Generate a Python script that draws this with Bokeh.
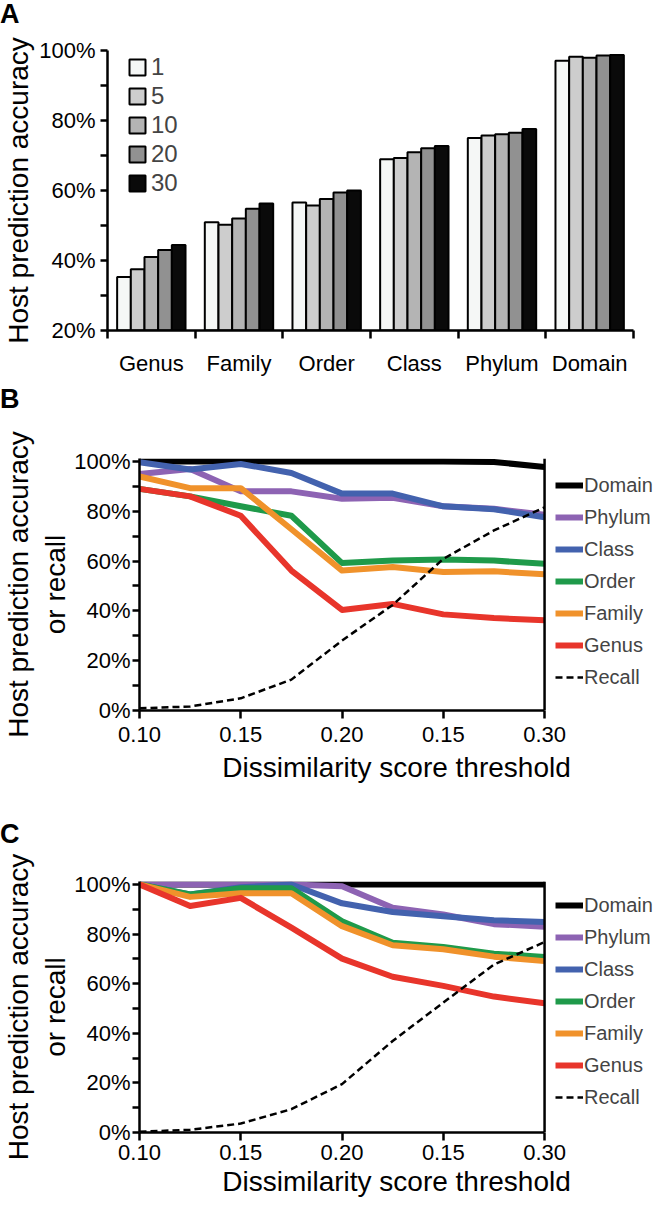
from bokeh.plotting import figure
from bokeh.layouts import column
from bokeh.models import FixedTicker, PrintfTickFormatter, Range1d, Legend, LegendItem, Div
from bokeh.embed import file_html
from bokeh.resources import INLINE

FONT = "Liberation Sans"

# ---------------- Panel A data ----------------
categories = ["Genus", "Family", "Order", "Class", "Phylum", "Domain"]
top_n = ["1", "5", "10", "20", "30"]
acc_top1 = [35.3, 50.9, 56.6, 68.9, 75.0, 97.1]
acc_top5 = [37.5, 50.2, 55.7, 69.3, 75.7, 98.2]
acc_top10 = [41.0, 52.0, 57.6, 70.9, 76.1, 97.9]
acc_top20 = [43.0, 54.8, 59.4, 72.1, 76.5, 98.6]
acc_top30 = [44.4, 56.3, 60.0, 72.7, 77.6, 98.7]
bar_colors = ["#f5f7f6", "#cdcdcd", "#b4b4b4", "#919191", "#0a0a0a"]

# ---------------- Panel B / C data ----------------
thresholds = [0.100, 0.125, 0.150, 0.175, 0.200, 0.225, 0.250, 0.275, 0.300]
x_tick_values = [0.10, 0.15, 0.20, 0.25, 0.30]
x_tick_labels = ["0.10", "0.15", "0.20", "0.15", "0.30"]
series_names = ["Domain", "Phylum", "Class", "Order", "Family", "Genus", "Recall"]
series_colors = ["#000000", "#8d63b3", "#4362ae", "#1f9a4a", "#f0922b", "#e8352b", "#000000"]

b_domain = [100, 100, 100, 100, 100, 100, 100, 99.8, 97.8]
b_phylum = [95.0, 97.0, 88.0, 88.0, 85.0, 85.4, 82.0, 81.0, 78.6]
b_class = [99.7, 96.8, 99.0, 95.4, 87.1, 87.1, 82.0, 80.8, 77.6]
b_order = [89.0, 86.0, 82.0, 78.2, 59.2, 60.2, 60.6, 60.2, 58.9]
b_family = [94.0, 89.3, 89.3, 72.8, 56.2, 57.6, 55.6, 55.9, 54.7]
b_genus = [89.0, 86.0, 78.2, 56.2, 40.4, 42.8, 38.6, 37.1, 36.2]
b_recall = [0.9, 1.6, 4.9, 12.4, 28.1, 42.4, 60.9, 72.3, 81.6]

c_domain = [100, 100, 100, 100, 100, 100, 100, 100, 100]
c_phylum = [100, 100, 100, 100, 99.3, 90.6, 87.9, 84.0, 83.0]
c_class = [100, 96.0, 98.9, 100, 92.4, 88.9, 87.2, 85.6, 84.9]
c_order = [100, 96.0, 98.5, 98.5, 85.2, 76.5, 74.8, 72.1, 70.8]
c_family = [100, 95.0, 96.5, 96.5, 83.2, 75.5, 73.9, 70.9, 69.1]
c_genus = [100, 91.3, 94.6, 82.6, 70.1, 62.8, 59.1, 54.8, 52.1]
c_recall = [0.3, 1.1, 3.6, 9.4, 19.5, 36.9, 52.4, 67.7, 76.8]

W_A = 645
W_BC = 653
RIGHT_PAD = 9


def letter_div(letter, height, pad_top):
    html = ("<div style=\"font-family:'Liberation Sans',Arial,sans-serif;font-size:27px;"
            "font-weight:bold;line-height:28px;color:#000;padding-top:%dpx;margin:0\">%s</div>"
            % (pad_top, letter))
    return Div(text=html, width=60, height=height, margin=0)


def style_axis(ax, tick_size="22px"):
    ax.axis_line_width = 2.5
    ax.axis_line_color = "black"
    ax.major_tick_line_width = 2.5
    ax.minor_tick_line_width = 2.5
    ax.major_tick_in = 0
    ax.minor_tick_in = 0
    ax.major_label_text_font = FONT
    ax.major_label_text_font_size = tick_size
    ax.major_label_text_color = "black"
    ax.axis_label_text_font = FONT
    ax.axis_label_text_font_size = "28px"
    ax.axis_label_text_font_style = "normal"
    ax.axis_label_text_color = "black"


# ---------------- Panel A ----------------
div_a = letter_div("A", 32, 0)

A_left, A_right, A_top, A_h = 100, 12, 18, 346
A_frame_h = 282
pa = figure(width=W_A, height=A_h, x_range=Range1d(0, 6), y_range=Range1d(20, 100),
            output_backend="svg", toolbar_location=None, frame_align=False,
            min_border_left=A_left, min_border_right=A_right, min_border_top=A_top,
            min_border_bottom=A_h - A_top - A_frame_h)
pa.outline_line_color = None
pa.xgrid.grid_line_color = None
pa.ygrid.grid_line_color = None

series = [acc_top1, acc_top5, acc_top10, acc_top20, acc_top30]
bw = 0.156
for j, vals in enumerate(series):
    xs = [i + 0.5 + (j - 2) * bw for i in range(len(categories))]
    pa.vbar(x=xs, top=vals, bottom=20, width=bw, fill_color=bar_colors[j],
            line_color="black", line_width=2, legend_label=top_n[j])

pa.xaxis.ticker = FixedTicker(ticks=[i + 0.5 for i in range(len(categories))],
                              minor_ticks=list(range(len(categories) + 1)))
pa.xaxis.major_label_overrides = {i + 0.5: c for i, c in enumerate(categories)}
style_axis(pa.xaxis[0])
pa.xaxis.major_tick_out = 0
pa.xaxis.minor_tick_out = 8
pa.xaxis.major_label_standoff = 12

pa.yaxis.ticker = FixedTicker(ticks=[20, 40, 60, 80, 100], minor_ticks=[30, 50, 70, 90])
pa.yaxis.formatter = PrintfTickFormatter(format="%d%%")
style_axis(pa.yaxis[0])
pa.yaxis.major_tick_out = 7
pa.yaxis.minor_tick_out = 7
pa.yaxis.major_label_standoff = 5
pa.yaxis.axis_label = "Host prediction accuracy"
pa.yaxis.axis_label_standoff = 2

lg = pa.legend[0]
lg.location = (20, 133)
lg.glyph_width = 20
lg.glyph_height = 20
lg.label_text_font = FONT
lg.label_text_font_size = "24px"
lg.label_standoff = 4
lg.spacing = 1
lg.padding = 0
lg.margin = 0
lg.border_line_color = None
lg.background_fill_alpha = 0


# ---------------- Panels B and C ----------------
def line_panel(height, top, frame_h, data, legend_vy, tick_standoff, title_standoff):
    left = 125
    plot_w = 409                              # pixel width of the 0.10-0.30 data area
    frame_w = W_BC - left - RIGHT_PAD         # frame extends right to host the legend
    x_end = 0.3 + 0.2 * (frame_w - plot_w) / plot_w
    p = figure(width=W_BC, height=height, x_range=Range1d(0.1, x_end), y_range=Range1d(0, 101.2),
               output_backend="svg", toolbar_location=None, frame_align=False,
               min_border_left=left, min_border_right=0, min_border_top=top,
               min_border_bottom=height - top - frame_h)
    p.outline_line_color = None
    p.xgrid.grid_line_color = None
    p.ygrid.grid_line_color = None
    items = []
    for name, color, vals in zip(series_names, series_colors, data):
        if name == "Recall":
            r = p.line(thresholds, vals, line_color=color, line_width=2.5, line_dash="7 4")
        else:
            r = p.line(thresholds, vals, line_color=color, line_width=6, line_join="round")
        items.append(LegendItem(label=name, renderers=[r]))
    p.segment(x0=[0.3], y0=[0], x1=[0.3], y1=[101.2], line_color="black", line_width=2.5)

    p.xaxis.ticker = FixedTicker(ticks=x_tick_values, minor_ticks=[])
    p.xaxis.major_label_overrides = dict(zip(x_tick_values, x_tick_labels))
    p.xaxis.bounds = (0.1, 0.3)
    style_axis(p.xaxis[0])
    p.xaxis.major_tick_out = 8
    p.xaxis.minor_tick_line_color = None
    p.xaxis.major_label_standoff = tick_standoff
    p.xaxis.axis_label = "Dissimilarity score threshold"
    p.xaxis.axis_label_standoff = title_standoff

    p.yaxis.ticker = FixedTicker(ticks=[0, 20, 40, 60, 80, 100], minor_ticks=[10, 30, 50, 70, 90])
    p.yaxis.formatter = PrintfTickFormatter(format="%d%%")
    style_axis(p.yaxis[0])
    p.yaxis.major_tick_out = 7
    p.yaxis.minor_tick_out = 7
    p.yaxis.major_label_standoff = 2
    p.yaxis.axis_label = "Host prediction accuracy\nor recall"
    p.yaxis.axis_label_standoff = 0

    lg = Legend(items=items, location=(plot_w + 7, legend_vy))
    lg.glyph_width = 28
    lg.glyph_height = 32
    lg.label_height = 32
    lg.label_text_font = FONT
    lg.label_text_font_size = "20px"
    lg.label_standoff = 1
    lg.spacing = 0
    lg.padding = 0
    lg.margin = 0
    lg.border_line_color = None
    lg.background_fill_alpha = 0
    p.add_layout(lg)
    return p


div_b = letter_div("B", 36, 7)
pb = line_panel(406, 44, 252,
                [b_domain, b_phylum, b_class, b_order, b_family, b_genus, b_recall], 17, 8, 7)
div_c = letter_div("C", 32, 0)
pc = line_panel(353, 29, 251,
                [c_domain, c_phylum, c_class, c_order, c_family, c_genus, c_recall], 19, 4, 3)

layout = column(div_a, pa, div_b, pb, div_c, pc, spacing=0)
open("out.html", "w").write(file_html(layout, INLINE))
